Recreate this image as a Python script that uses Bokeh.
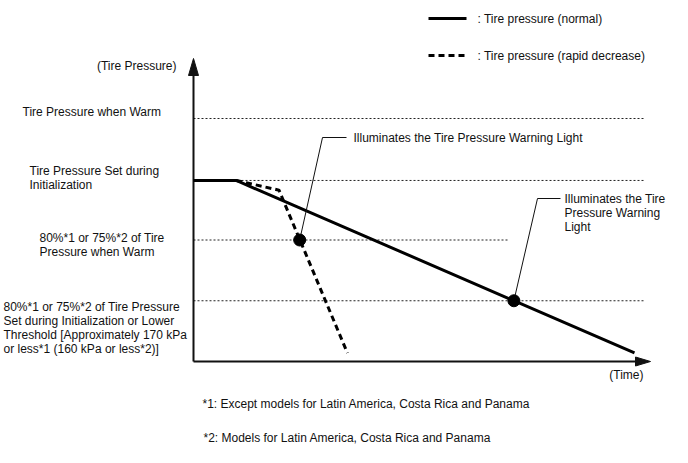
from bokeh.plotting import figure
from bokeh.models import Range1d
from bokeh.core.properties import value
from bokeh.embed import file_html
from bokeh.resources import INLINE

# ---------------- data (arbitrary units) ----------------
# pressure: 100 = "warm" level, time: 0..100 along the time axis
level_values = [100, 74.5, 50, 25]          # warm, init, 80% warm, lower threshold
level_line_end = [100, 100, 70, 100]        # how far each dotted reference line runs (time)
level_labels = [
    ["Tire Pressure when Warm"],
    ["Tire Pressure Set during", "Initialization"],
    ["80%*1 or 75%*2 of Tire", "Pressure when Warm"],
    ["80%*1 or 75%*2 of Tire Pressure", "Set during Initialization or Lower",
     "Threshold [Approximately 170 kPa", "or less*1 (160 kPa or less*2)]"],
]

normal_time = [0, 9.5, 98]
normal_pressure = [74.5, 74.5, 3.5]
rapid_time = [9.5, 19, 34.2]
rapid_pressure = [74.5, 70.5, 3.5]

warning_time = [23.6, 71.2]
warning_pressure = [50, 25]
warning_text = [["Illuminates the Tire Pressure Warning Light"],
                ["Illuminates the Tire", "Pressure Warning", "Light"]]

legend_labels = [": Tire pressure (normal)", ": Tire pressure (rapid decrease)"]
axis_titles = ["(Tire Pressure)", "(Time)"]
footnotes = ["*1: Except models for Latin America, Costa Rica and Panama",
             "*2: Models for Latin America, Costa Rica and Panama"]

# ---------------- layout (page pixels -> data units) ----------------
W, H = 672, 447
OFF = 0                  # observed page offset of the plot
PX0, PY0 = 193, 361      # page position of the origin
SX, SY = 4.5, 2.43       # pixels per data unit


def tx(px):
    return (px - PX0) / SX


def ty(py):
    return (PY0 - py) / SY


def dy(pix):
    return pix / SY


def dx(pix):
    return pix / SX


FONT = value("Liberation Sans")
FS = "12px"
LH = 14.2

p = figure(width=W, height=H, output_backend="svg", toolbar_location=None,
           x_axis_type=None, y_axis_type=None, min_border=0,
           x_range=Range1d(tx(OFF), tx(OFF + W)), y_range=Range1d(ty(OFF + H), ty(OFF)))
p.outline_line_color = None
p.background_fill_color = "white"
p.border_fill_color = "white"


def put_text(xs, ys, texts, align="left"):
    p.text(x=xs, y=ys, text=texts, text_font=FONT, text_font_size=FS,
           text_color="#111111", text_align=align, text_baseline="middle")


# dotted reference levels
for lv, end in zip(level_values, level_line_end):
    p.line(x=[0, end], y=[lv, lv], line_color="#222222", line_width=1, line_dash="2 2")

# axes with arrow heads
y_tip = ty(58)
x_tip = tx(650)
p.line(x=[0, 0], y=[0, y_tip - dy(16)], line_color="#111111", line_width=2)
p.line(x=[0, x_tip - dx(14)], y=[0, 0], line_color="#111111", line_width=2)
p.patch(x=[0, -dx(5), dx(5)], y=[y_tip, y_tip - dy(17), y_tip - dy(17)],
        fill_color="#111111", line_color="#111111")
p.patch(x=[x_tip, x_tip - dx(15), x_tip - dx(15)], y=[0, dy(4.5), -dy(4.5)],
        fill_color="#111111", line_color="#111111")

# pressure curves
p.line(x=normal_time, y=normal_pressure, line_color="#000000", line_width=3)
p.line(x=rapid_time, y=rapid_pressure, line_color="#000000", line_width=3,
       line_dash="6 4")

# callouts
elbows = [(322, 137, 346, 353), (537, 198, 560, 564)]
for (t, pr, lines, (ex, ey, hx, txp)) in zip(warning_time, warning_pressure, warning_text, elbows):
    p.line(x=[t, tx(ex), tx(hx)], y=[pr, ty(ey), ty(ey)], line_color="#111111", line_width=1)
    put_text([tx(txp)] * len(lines), [ty(ey + i * LH) for i in range(len(lines))], lines)
p.scatter(x=warning_time, y=warning_pressure, size=12, fill_color="#000000",
          line_color="#000000")

# level labels
label_pos = [(22, 111), (29, 170), (39, 237), (3, 306)]
for lines, (lx, ly) in zip(level_labels, label_pos):
    put_text([tx(lx)] * len(lines), [ty(ly + i * LH) for i in range(len(lines))], lines)

# axis titles
put_text([tx(176)], [ty(65)], [axis_titles[0]], align="right")
put_text([tx(643)], [ty(374)], [axis_titles[1]], align="right")

# legend
leg_y = [18, 55]
p.line(x=[tx(428), tx(466)], y=[ty(leg_y[0])] * 2, line_color="#000000", line_width=3)
p.line(x=[tx(428), tx(466)], y=[ty(leg_y[1])] * 2, line_color="#000000", line_width=3,
       line_dash="6 4")
put_text([tx(477)] * 2, [ty(v) for v in leg_y], legend_labels)

# footnotes
put_text([tx(202), tx(203)], [ty(403), ty(437)], footnotes)

open("out.html", "w").write(file_html(p, INLINE))
